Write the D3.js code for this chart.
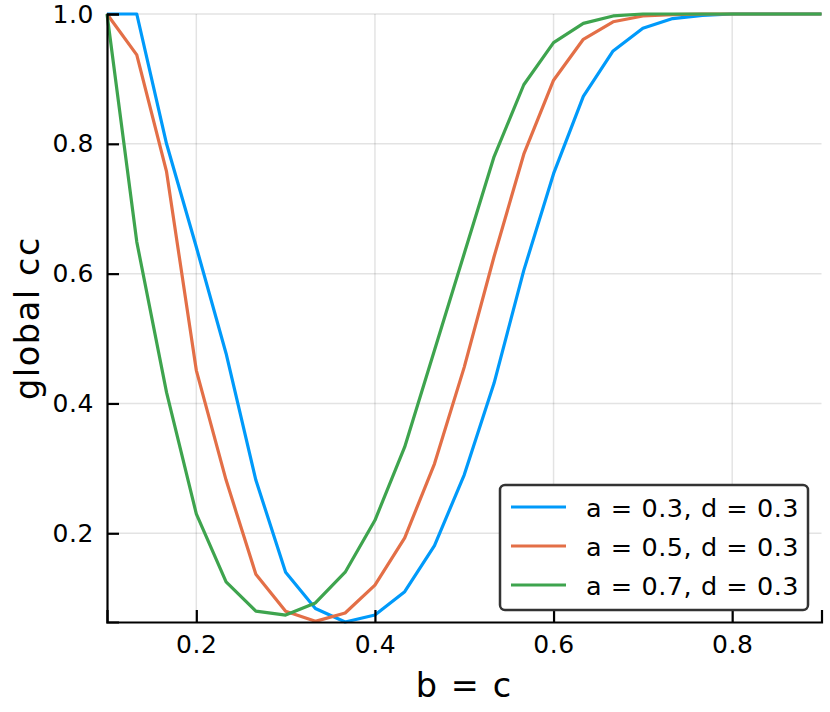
<!DOCTYPE html>
<html>
<head>
<meta charset="utf-8">
<script src="https://cdn.jsdelivr.net/npm/d3@7"></script>
<style>
  body { margin: 0; background: #fff; }
  svg { font-family: "DejaVu Sans", sans-serif; }
</style>
</head>
<body>
<div id="chart"></div>
<script>
// datos:
const bValues = d3.range(25).map(i => 0.1 + i / 30)
const serieA03 = [1.0, 1.0, 0.80, 0.641, 0.477, 0.282, 0.140, 0.084, 0.0633, 0.074, 0.110, 0.181, 0.290, 0.431, 0.605, 0.754, 0.873, 0.943, 0.978, 0.993, 0.998, 1.0, 1.0, 1.0, 1.0]
const serieA05 = [1.0, 0.937, 0.757, 0.451, 0.282, 0.137, 0.080, 0.0643, 0.0772, 0.120, 0.193, 0.307, 0.456, 0.626, 0.784, 0.898, 0.961, 0.988, 0.997, 0.999, 1.0, 1.0, 1.0, 1.0, 1.0]
const serieA07 = [1.0, 0.649, 0.417, 0.230, 0.125, 0.080, 0.074, 0.0926, 0.140, 0.220, 0.333, 0.482, 0.631, 0.780, 0.891, 0.956, 0.9856, 0.997, 1.0, 1.0, 1.0, 1.0, 1.0, 1.0, 1.0]
const seriesNames = ["a = 0.3, d = 0.3", "a = 0.5, d = 0.3", "a = 0.7, d = 0.3"]
const xTicks = [0.2, 0.4, 0.6, 0.8]
const yTicks = [0.2, 0.4, 0.6, 0.8, 1.0]

const colors = ["#009AFA", "#E36F47", "#3EA44E"]
const series = [serieA03, serieA05, serieA07]

// constantes:
const width = 830
const height = 712
const margin = { top: 14, bottom: 90, left: 107, right: 8.5 }

const svg = d3.select("#chart").append("svg").attr("width", width).attr("height", height)

const x = d3.scaleLinear().domain(d3.extent(bValues)).range([margin.left, width - margin.right])
const allY = series.flat()
const y = d3.scaleLinear().domain([d3.min(allY), d3.max(allY)]).range([height - margin.bottom, margin.top])

// grid:
const grid = svg.append("g").attr("id", "grid")
grid.selectAll("line.gx").data(xTicks).join("line")
    .attr("x1", d => x(d)).attr("x2", d => x(d))
    .attr("y1", y.range()[0]).attr("y2", y.range()[1])
    .attr("stroke", "#000").attr("stroke-opacity", 0.11).attr("stroke-width", 1.5)
grid.selectAll("line.gy").data(yTicks).join("line")
    .attr("x1", x.range()[0]).attr("x2", x.range()[1])
    .attr("y1", d => y(d)).attr("y2", d => y(d))
    .attr("stroke", "#000").attr("stroke-opacity", 0.11).attr("stroke-width", 1.5)

// lineas:
const line = d3.line().x((d, i) => x(bValues[i])).y(d => y(d))
svg.append("g").attr("id", "lines").selectAll("path").data(series).join("path")
    .attr("d", line)
    .attr("fill", "none")
    .attr("stroke", (d, i) => colors[i])
    .attr("stroke-width", 3.2)
    .attr("stroke-linejoin", "round")

// ejes:
const xAxis = d3.axisBottom(x).tickValues(xTicks).tickSize(-12).tickPadding(13).tickFormat(d3.format(".1f"))
const yAxis = d3.axisLeft(y).tickValues(yTicks).tickSize(-12).tickPadding(13).tickFormat(d3.format(".1f"))

const xAxisGroup = svg.append("g").attr("transform", `translate(0, ${y.range()[0]})`).call(xAxis)
const yAxisGroup = svg.append("g").attr("transform", `translate(${x.range()[0]}, 0)`).call(yAxis)

;[xAxisGroup, yAxisGroup].forEach(g => {
    g.select(".domain").attr("stroke", "#000").attr("stroke-width", 2.2)
    g.selectAll(".tick line").attr("stroke", "#000").attr("stroke-width", 2.2)
    g.selectAll(".tick text").attr("font-size", 25).attr("letter-spacing", 0.6)
        .attr("fill", "#000").attr("font-family", "DejaVu Sans")
})

// etiquetas:
svg.append("text")
    .attr("x", (x.range()[0] + x.range()[1]) / 2).attr("y", 697)
    .attr("text-anchor", "middle").attr("font-size", 33.5).attr("letter-spacing", 1.6)
    .text("b = c")
svg.append("text")
    .attr("transform", `translate(39, ${(y.range()[0] + y.range()[1]) / 2}) rotate(-90)`)
    .attr("text-anchor", "middle").attr("font-size", 33.5).attr("letter-spacing", 1.6)
    .text("global cc")

// leyenda:
const legend = svg.append("g").attr("transform", "translate(500, 485)")
legend.append("rect")
    .attr("width", 308).attr("height", 125).attr("rx", 5)
    .attr("fill", "#fff").attr("stroke", "#333").attr("stroke-width", 2.5)
const items = legend.selectAll("g.item").data(seriesNames).join("g")
    .attr("transform", (d, i) => `translate(0, ${22 + i * 39})`)
items.append("line")
    .attr("x1", 11).attr("x2", 66)
    .attr("stroke", (d, i) => colors[i]).attr("stroke-width", 3.2)
items.append("text")
    .attr("x", 86).attr("y", 9.5)
    .attr("font-size", 25.5).attr("letter-spacing", 0.55)
    .text(d => d)
</script>
</body>
</html>
